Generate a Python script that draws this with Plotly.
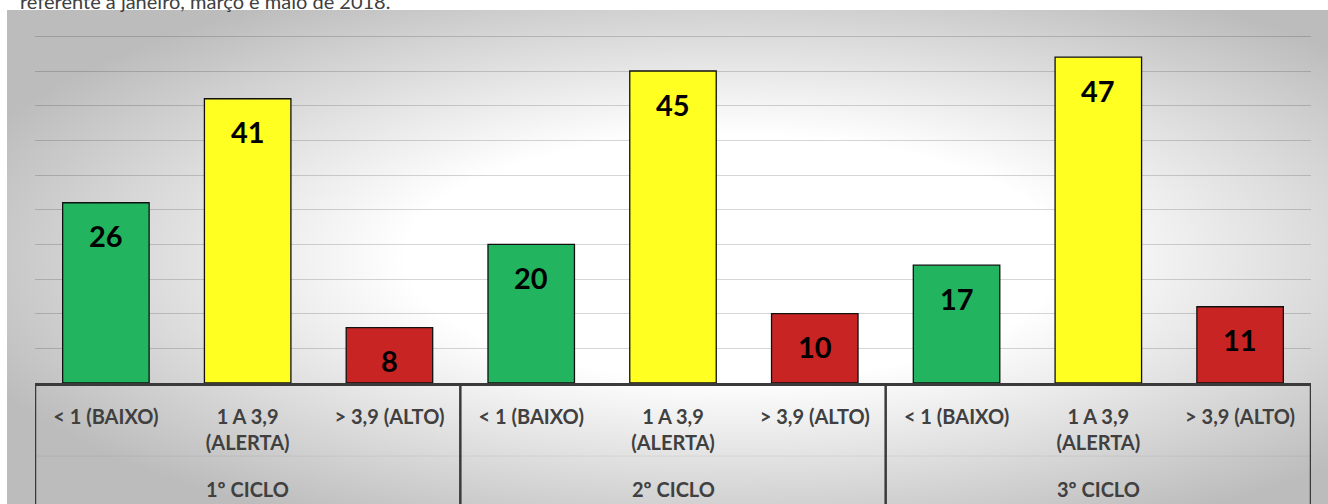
import base64
import plotly.graph_objects as go

# ---- data ----
groups = ["1º CICLO", "2º CICLO", "3º CICLO"]
levels = ["< 1 (BAIXO)", "1 A 3,9<br>(ALERTA)", "> 3,9 (ALTO)"]
baixo = [26, 20, 17]
alerta = [41, 45, 47]
alto = [8, 10, 11]
series = [baixo, alerta, alto]
colors = ["#23b45f", "#ffff22", "#c82424"]
subtitle = "referente a janeiro, março e maio de 2018."

FONT = "Lato"
DARK = "#404040"

fig = go.Figure()

tickvals, ticktext = [], []
for li, (vals, col) in enumerate(zip(series, colors)):
    xs = [gi * 3 + li for gi in range(len(groups))]
    fig.add_trace(go.Bar(
        x=xs, y=vals, width=0.61,
        marker=dict(color=col, line=dict(color="#111111", width=1.3)),
        hoverinfo="y", showlegend=False,
    ))
    for x, v in zip(xs, vals):
        fig.add_annotation(x=x, y=v, xref="x", yref="y", text=f"<b>{v}</b>",
                           showarrow=False, yanchor="middle", yshift=-33,
                           font=dict(family=FONT, size=29, color="#000000"))

for gi in range(len(groups)):
    for li in range(len(levels)):
        tickvals.append(gi * 3 + li)
        ticktext.append(f"<b>{levels[li]}</b>")
    fig.add_annotation(x=gi * 3 + 1, y=-0.283, xref="x", yref="paper",
                       text=f"<b>{groups[gi]}</b>", showarrow=False,
                       yanchor="middle",
                       font=dict(family=FONT, size=20, color=DARK))

# dividers
for xb in [-0.5, 2.5, 5.5, 8.5]:
    fig.add_shape(type="line", xref="x", yref="paper", x0=xb, x1=xb,
                  y0=0, y1=-0.33, line=dict(color="#3a3a3a", width=2.5))
fig.add_shape(type="line", xref="x", yref="paper", x0=-0.5, x1=8.5,
              y0=-0.196, y1=-0.196, line=dict(color="rgba(0,0,0,0.06)", width=1))

# background gradient image
svg = ("<svg xmlns='http://www.w3.org/2000/svg' width='1321' height='494' "
       "viewBox='0 0 1321 494' preserveAspectRatio='none'>"
       "<defs><radialGradient id='g' cx='0.55' cy='0.5' r='0.62'>"
       "<stop offset='0' stop-color='#ffffff'/>"
       "<stop offset='0.4' stop-color='#ffffff'/>"
       "<stop offset='1' stop-color='#bcbcbc'/>"
       "</radialGradient></defs>"
       "<rect x='0' y='0' width='1321' height='494' fill='url(#g)'/></svg>")
uri = "data:image/svg+xml;base64," + base64.b64encode(svg.encode()).decode()
fig.add_layout_image(source=uri, xref="paper", yref="paper",
                     x=(7 - 35) / 1276, y=1.0, sizex=1321 / 1276, sizey=494 / 373,
                     xanchor="left", yanchor="top", sizing="stretch", layer="below")

fig.add_annotation(x=(18 - 35) / 1276, y=1.0, xref="paper", yref="paper",
                   text=subtitle, showarrow=False, xanchor="left", yanchor="bottom",
                   yshift=-5, font=dict(family=FONT, size=20, color=DARK))

fig.update_layout(
    width=1328, height=504,
    margin=dict(l=35, r=17, t=10, b=121),
    paper_bgcolor="white", plot_bgcolor="rgba(0,0,0,0)",
    bargap=0.39,
    xaxis=dict(range=[-0.5, 8.5], tickvals=tickvals, ticktext=ticktext,
               showgrid=False, zeroline=False, showline=True, linecolor="#3a3a3a",
               linewidth=2.5, ticks="", ticklabelstandoff=14,
               tickfont=dict(family=FONT, size=20, color=DARK), tickangle=0),
    yaxis=dict(range=[0, 53.8], dtick=5, showticklabels=False,
               showgrid=True, gridcolor="rgba(0,0,0,0.16)", gridwidth=1.3,
               zeroline=False, showline=False),
)

fig.write_html("out.html")
